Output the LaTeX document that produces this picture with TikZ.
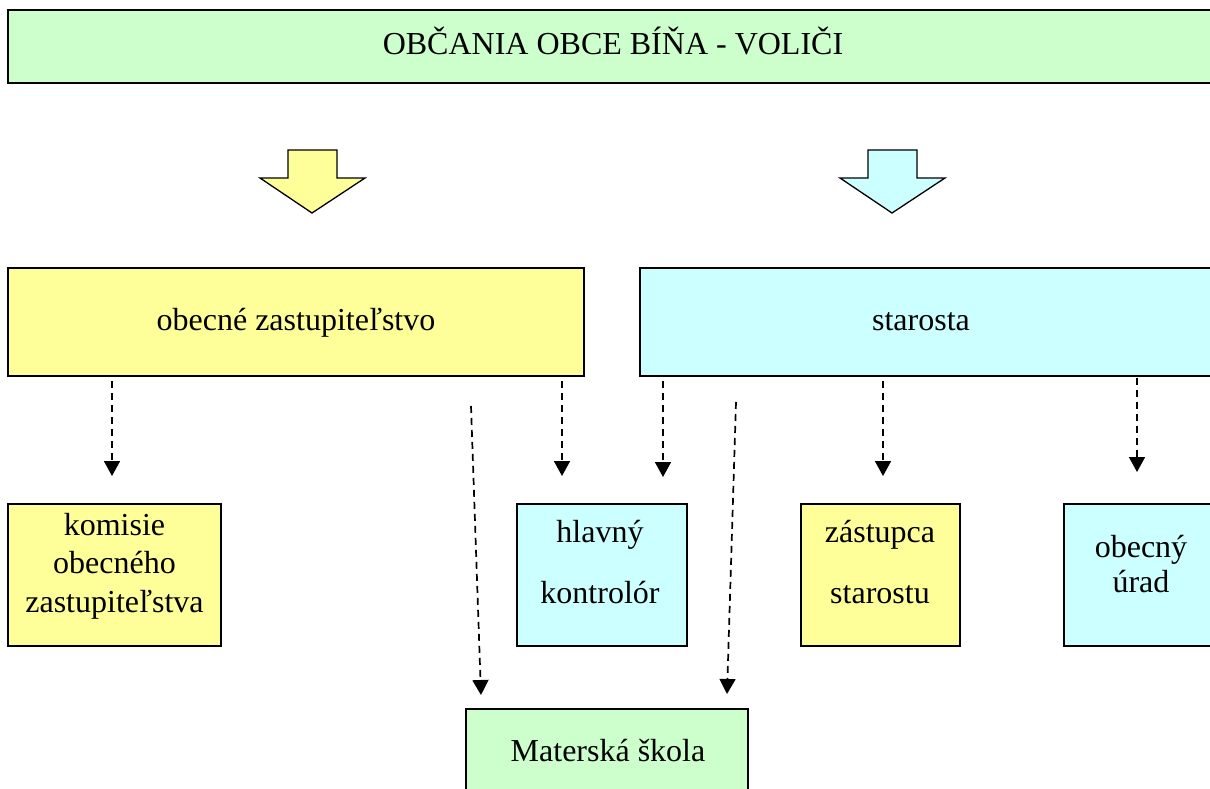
\documentclass[tikz,border=0pt]{standalone}
\usepackage{fontspec}
\setmainfont{Liberation Serif}
\usetikzlibrary{arrows.meta}
\definecolor{cgreen}{HTML}{CCFFCC}
\definecolor{cyellow}{HTML}{FFFF99}
\definecolor{ccyan}{HTML}{CCFFFF}
\begin{document}
\begin{tikzpicture}[x=1pt,y=-1pt,
  box/.style={draw, line width=1.9pt, inner sep=0pt},
  txt/.style={font=\fontsize{32}{38}\selectfont, inner sep=0pt, anchor=base, align=center},
  blockarrow/.style={draw, line width=1.3pt, line join=miter},
  dasharrow/.style={line width=1.7pt, dash pattern=on 7pt off 5pt,
    -{Triangle[length=15pt,width=16pt]}}]
\useasboundingbox (0,0) rectangle (1210,789);

% boxes
\node[box, line width=2.3pt, fill=cgreen, minimum width=1210pt, minimum height=73pt] (voters) at (613,46.5) {};
\node[box, fill=cyellow, minimum width=576pt, minimum height=108pt] (zast) at (296,322) {};
\node[box, fill=ccyan, minimum width=576pt, minimum height=108pt] (star) at (928,322) {};
\node[box, fill=cyellow, minimum width=213pt, minimum height=142pt] (kom) at (114.5,575) {};
\node[box, fill=ccyan, minimum width=170pt, minimum height=142pt] (hlk) at (602,575) {};
\node[box, fill=cyellow, minimum width=159pt, minimum height=142pt] (zas) at (880.5,575) {};
\node[box, fill=ccyan, minimum width=154pt, minimum height=142pt] (ur) at (1141,575) {};
\node[box, fill=cgreen, minimum width=282pt, minimum height=91pt] (ms) at (607,754.5) {};

% texts (base anchor = baseline of the last line)
\node[txt] (tvoters) at (613,55) {OBČANIA OBCE BÍŇA - VOLIČI};
\node[txt] (tzast) at (296,330) {obecné zastupiteľstvo};
\node[txt] (tstar) at (921,330) {starosta};
\node[txt, font=\fontsize{32}{38.5}\selectfont] (tkom) at (114.5,612) {komisie\\obecného\\zastupiteľstva};
\node[txt, font=\fontsize{32}{61}\selectfont] (thlk) at (600,603) {hlavný\\kontrolór};
\node[txt, font=\fontsize{32}{61}\selectfont] (tzas) at (880,603) {zástupca\\starostu};
\node[txt, font=\fontsize{32}{35}\selectfont] (tur) at (1141,592) {obecný\\úrad};
\node[txt] (tms) at (608,761) {Materská škola};

% block arrows
\draw[blockarrow, fill=cyellow] (288,150) -- (337,150) -- (337,178) -- (365,178) -- (312,213) -- (260,178) -- (288,178) -- cycle;
\draw[blockarrow, fill=ccyan] (868,150) -- (917,150) -- (917,178) -- (945,178) -- (892,213) -- (840,178) -- (868,178) -- cycle;

% dashed connectors
\coordinate (s1) at (112,381);  \coordinate (e1) at (112,476);
\coordinate (s2) at (562,381);  \coordinate (e2) at (562,476);
\coordinate (s3) at (663,381);  \coordinate (e3) at (663,477);
\coordinate (s4) at (883,381);  \coordinate (e4) at (883,476);
\coordinate (s5) at (1137,378); \coordinate (e5) at (1137,472);
\coordinate (s6) at (471,406);  \coordinate (e6) at (481,695);
\coordinate (s7) at (736,402);  \coordinate (e7) at (727,694);
\draw[dasharrow] (s1) -- (e1);
\draw[dasharrow] (s2) -- (e2);
\draw[dasharrow] (s3) -- (e3);
\draw[dasharrow] (s4) -- (e4);
\draw[dasharrow] (s5) -- (e5);
\draw[dasharrow] (s6) -- (e6);
\draw[dasharrow] (s7) -- (e7);
\end{tikzpicture}
\end{document}
